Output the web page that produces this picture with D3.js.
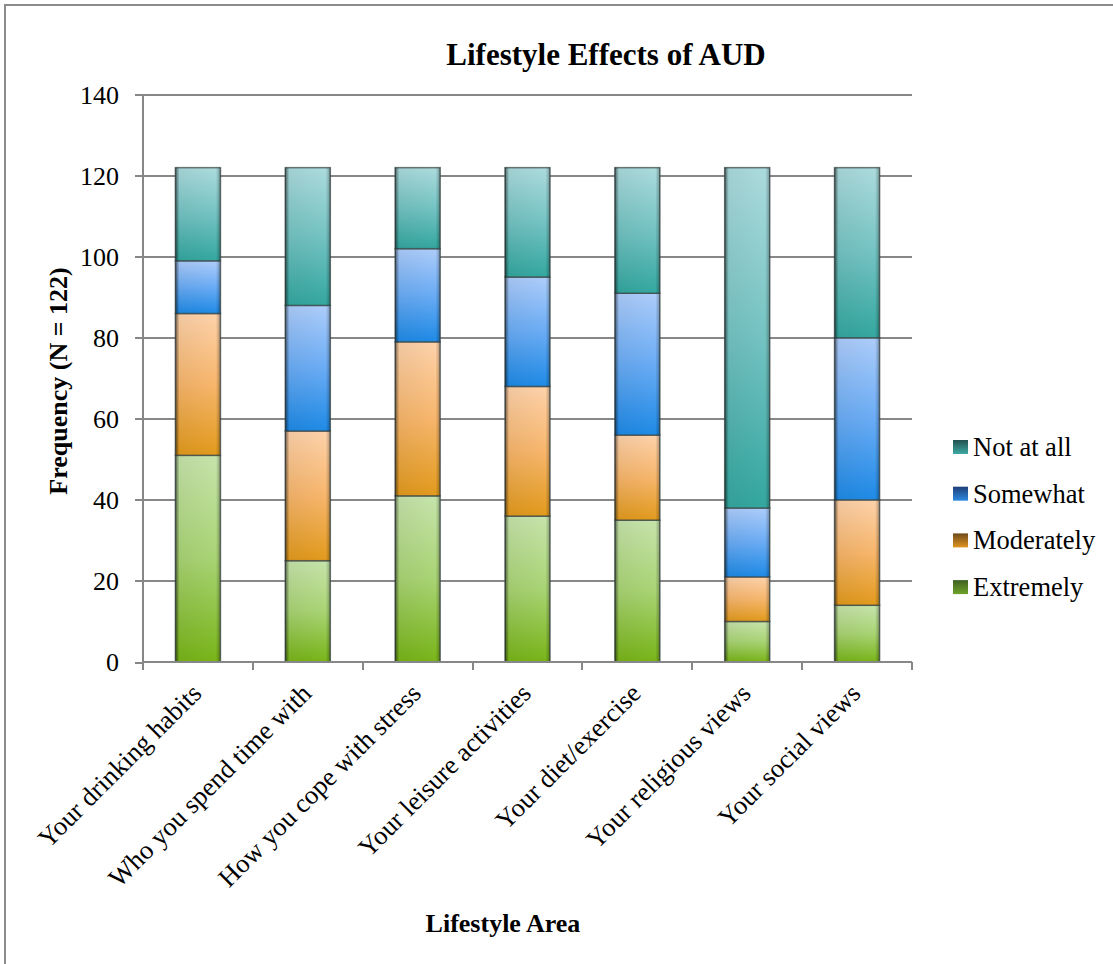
<!DOCTYPE html>
<html lang="en">
<head>
<meta charset="UTF-8">
<title>Lifestyle Effects of AUD</title>
<script src="https://cdn.jsdelivr.net/npm/d3@7"></script>
<style>
  body { margin: 0; background: #fff; }
  text { font-family: "Liberation Serif", "Times New Roman", serif; fill: #000; }
  .axis path, .axis line { stroke: #878787; stroke-width: 2; shape-rendering: crispEdges; }
  .axis text { font-size: 26px; }
</style>
</head>
<body>
<script>
// data
const categories = ["Your drinking habits", "Who you spend time with", "How you cope with stress",
  "Your leisure activities", "Your diet/exercise", "Your religious views", "Your social views"]
const extremely  = [51, 25, 41, 36, 35, 10, 14]
const moderately = [35, 32, 38, 32, 21, 11, 26]
const somewhat   = [13, 31, 23, 27, 35, 17, 40]
const notAtAll   = [23, 34, 20, 27, 31, 84, 42]
const seriesNames = ["Extremely", "Moderately", "Somewhat", "Not at all"]
const yTicks = [0, 20, 40, 60, 80, 100, 120, 140]

const w = 1113, h = 964
const plotLeft = 143, plotRight = 912, plotTop = 94.7, plotBottom = 662

const rows = categories.map((c, i) => ({
  cat: c, Extremely: extremely[i], Moderately: moderately[i], Somewhat: somewhat[i], "Not at all": notAtAll[i]
}))
const stacked = d3.stack().keys(seriesNames)(rows)

const x = d3.scaleBand().domain(categories).range([plotLeft, plotRight]).paddingInner(0.59).paddingOuter(0.295)
const y = d3.scaleLinear().domain([0, 140]).range([plotBottom, plotTop])

// top light -> bottom saturated
const shades = {
  "Extremely":  ["#c6e4ab", "#a9d474", "#78b418"],
  "Moderately": ["#fed2aa", "#f7b66c", "#e29a1c"],
  "Somewhat":   ["#adcdfb", "#6aacf5", "#1e8ae6"],
  "Not at all": ["#acdbdd", "#74c3c3", "#33a79f"]
}
const legendShades = {
  "Extremely":  ["#3f5f22", "#6fa32a"],
  "Moderately": ["#6e4a1c", "#e0951f"],
  "Somewhat":   ["#1f3f78", "#2d8ae0"],
  "Not at all": ["#23514f", "#3fa9a3"]
}

const svg = d3.select("body").append("svg").attr("width", w).attr("height", h)
const defs = svg.append("defs")

seriesNames.forEach((s, i) => {
  const g = defs.append("linearGradient").attr("id", "g" + i)
    .attr("x1", 0).attr("y1", 0).attr("x2", 0).attr("y2", 1)
  g.append("stop").attr("offset", "0%").attr("stop-color", shades[s][0])
  g.append("stop").attr("offset", "50%").attr("stop-color", shades[s][1])
  g.append("stop").attr("offset", "100%").attr("stop-color", shades[s][2])
  const lg = defs.append("linearGradient").attr("id", "lg" + i)
    .attr("x1", 0).attr("y1", 0).attr("x2", 0).attr("y2", 1)
  lg.append("stop").attr("offset", "0%").attr("stop-color", legendShades[s][0])
  lg.append("stop").attr("offset", "100%").attr("stop-color", legendShades[s][1])
})
// side shading for a bevel look
const side = defs.append("linearGradient").attr("id", "side")
  .attr("x1", 0).attr("y1", 0).attr("x2", 1).attr("y2", 0)
side.append("stop").attr("offset", "0%").attr("stop-color", "#000").attr("stop-opacity", 0.55)
side.append("stop").attr("offset", "9%").attr("stop-color", "#000").attr("stop-opacity", 0.05)
side.append("stop").attr("offset", "90%").attr("stop-color", "#000").attr("stop-opacity", 0)
side.append("stop").attr("offset", "100%").attr("stop-color", "#000").attr("stop-opacity", 0.3)

// outer frame (only top and left edges inside the view)
svg.append("rect").attr("x", 5).attr("y", 5).attr("width", 1200).attr("height", 1000)
  .attr("fill", "none").attr("stroke", "#8c8c8c").attr("stroke-width", 2)

// gridlines
svg.append("g").selectAll("line").data(yTicks.slice(1)).enter().append("line")
  .attr("x1", plotLeft).attr("x2", plotRight)
  .attr("y1", d => Math.round(y(d))).attr("y2", d => Math.round(y(d)))
  .attr("stroke", "#878787").attr("stroke-width", 2)

// bars
const layer = svg.append("g").selectAll("g").data(stacked).enter().append("g")
layer.selectAll("rect.f").data((d, i) => d.map(p => ({ p, i }))).enter().append("rect")
  .attr("class", "f")
  .attr("x", d => x(d.p.data.cat))
  .attr("width", x.bandwidth())
  .attr("y", d => y(d.p[1]))
  .attr("height", d => y(d.p[0]) - y(d.p[1]))
  .attr("fill", d => "url(#g" + d.i + ")")
  .attr("stroke", "#3d4b4b").attr("stroke-opacity", 0.75).attr("stroke-width", 1.5)
layer.selectAll("rect.s").data(d => d).enter().append("rect")
  .attr("class", "s")
  .attr("x", d => x(d.data.cat))
  .attr("width", x.bandwidth())
  .attr("y", d => y(d[1]))
  .attr("height", d => y(d[0]) - y(d[1]))
  .attr("fill", "url(#side)")

// axes
const yAxis = d3.axisLeft(y).tickValues(yTicks).tickSize(8).tickPadding(16)
svg.append("g").attr("class", "axis").attr("transform", "translate(" + plotLeft + ",0)")
  .call(yAxis)
  .call(g => g.select(".domain").attr("d", "M0," + plotTop + "V" + plotBottom))

const xAxis = d3.axisBottom(x).tickSize(0).tickFormat("")
const xg = svg.append("g").attr("class", "axis").attr("transform", "translate(0," + plotBottom + ")")
  .call(xAxis)
xg.select(".domain").attr("d", "M" + plotLeft + ",0H" + plotRight)
// tick marks at band boundaries
xg.selectAll("line.bound").data(d3.range(categories.length + 1)).enter().append("line")
  .attr("class", "bound")
  .attr("x1", i => plotLeft + i * x.step()).attr("x2", i => plotLeft + i * x.step())
  .attr("y1", 0).attr("y2", 8)
// rotated category labels
svg.append("g").selectAll("text").data(categories).enter().append("text")
  .attr("transform", d => "translate(" + (x(d) + x.bandwidth() / 2 + 5) + "," + (plotBottom + 33) + ") rotate(-45)")
  .attr("text-anchor", "end")
  .attr("font-size", "26.5px")
  .text(d => d)

// titles
svg.append("text").attr("x", 606).attr("y", 65).attr("text-anchor", "middle")
  .attr("font-size", "31px").attr("font-weight", "bold").text("Lifestyle Effects of AUD")
svg.append("text").attr("transform", "translate(67,381) rotate(-90)").attr("text-anchor", "middle")
  .attr("font-size", "26px").attr("font-weight", "bold").text("Frequency (N = 122)")
svg.append("text").attr("x", 503).attr("y", 932).attr("text-anchor", "middle")
  .attr("font-size", "26px").attr("font-weight", "bold").text("Lifestyle Area")

// legend (reverse order, top = Not at all)
const legendItems = seriesNames.slice().reverse()
const lgd = svg.append("g").selectAll("g").data(legendItems).enter().append("g")
  .attr("transform", (d, i) => "translate(953," + (447 + i * 46.7) + ")")
lgd.append("rect").attr("x", 0).attr("y", -7).attr("width", 15).attr("height", 14)
  .attr("fill", d => "url(#lg" + seriesNames.indexOf(d) + ")")
lgd.append("text").attr("x", 20).attr("y", 9).attr("font-size", "26.5px").text(d => d)
</script>
</body>
</html>
